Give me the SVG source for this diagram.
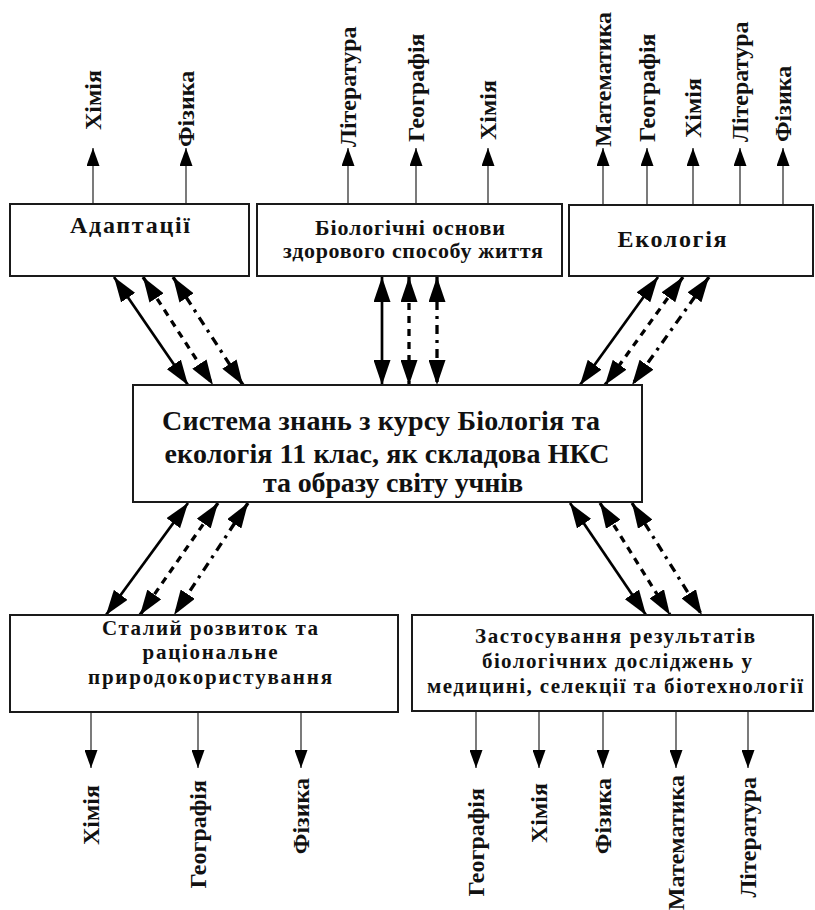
<svg xmlns="http://www.w3.org/2000/svg" width="815" height="910" viewBox="0 0 815 910">
<style>
.box{fill:#fff;stroke:#1a1a1a;stroke-width:2}
.t{font-family:"Liberation Serif","DejaVu Serif","Times New Roman",serif;font-weight:bold;fill:#111}
.c{text-anchor:middle}
.lbl{font-size:24px}
.up{text-anchor:start}
.dn{text-anchor:end}
.thin{stroke:#333;stroke-width:1.3;fill:none;marker-end:url(#small)}
.big{stroke:#000;fill:none;marker-start:url(#head);marker-end:url(#head)}
.solid{stroke-width:2.7}
.dash{stroke-width:3.3;stroke-dasharray:7 6}
.dashdot{stroke-width:3.3;stroke-dasharray:9 6 3 6}
</style>
<defs>
<marker id="head" viewBox="0 0 25 17" refX="25" refY="8.5" markerWidth="25" markerHeight="17" markerUnits="userSpaceOnUse" orient="auto-start-reverse"><path d="M0,0 L25,8.5 L0,17 z" fill="#000"/></marker>
<marker id="small" viewBox="0 0 18 13" refX="18" refY="6.5" markerWidth="18" markerHeight="13" markerUnits="userSpaceOnUse" orient="auto"><path d="M0,0 L18,6.5 L0,13 z" fill="#000"/></marker>
</defs>
<rect width="815" height="910" fill="#fff"/>

<g id="connectors">
<path class="thin" d="M93,204 V148"/>
<path class="thin" d="M186,204 V148"/>
<path class="thin" d="M348,204 V148"/>
<path class="thin" d="M416,204 V148"/>
<path class="thin" d="M488,204 V148"/>
<path class="thin" d="M603,205 V148"/>
<path class="thin" d="M647,205 V148"/>
<path class="thin" d="M693,205 V148"/>
<path class="thin" d="M740,205 V148"/>
<path class="thin" d="M783,205 V148"/>
<path class="thin" d="M91,712 V768"/>
<path class="thin" d="M198,712 V768"/>
<path class="thin" d="M301,712 V768"/>
<path class="thin" d="M476,711 V768"/>
<path class="thin" d="M539,711 V768"/>
<path class="thin" d="M603,711 V768"/>
<path class="thin" d="M676,711 V768"/>
<path class="thin" d="M748,711 V768"/>
<path class="big solid" d="M114,277 L188,385"/>
<path class="big dash" d="M143,277 L213,385"/>
<path class="big dashdot" d="M173,277 L243,385"/>
<path class="big solid" d="M382,277 L382,385"/>
<path class="big dash" d="M409,277 L409,385"/>
<path class="big dashdot" d="M437,277 L437,385"/>
<path class="big solid" d="M658,277 L580,385"/>
<path class="big dash" d="M683,277 L605,385"/>
<path class="big dashdot" d="M709,277 L632,385"/>
<path class="big solid" d="M188,503 L106,615"/>
<path class="big dash" d="M218,503 L140,615"/>
<path class="big dashdot" d="M248,503 L174,615"/>
<path class="big solid" d="M570,503 L646,615"/>
<path class="big dash" d="M600,503 L670,615"/>
<path class="big dashdot" d="M632,503 L702,615"/>
</g>

<g id="node-adaptatsii">
<rect class="box" x="10" y="204" width="239" height="72"/>
<text class="t c" x="130" y="233" font-size="24" textLength="120">Адаптації</text>
</g>
<g id="node-bio-zdorovya">
<rect class="box" x="257" y="204" width="305" height="72"/>
<text class="t c" x="410" y="235" font-size="22" textLength="190">Біологічні основи</text>
<text class="t c" x="413" y="258" font-size="22" textLength="260">здорового способу життя</text>
</g>
<g id="node-ekologiya">
<rect class="box" x="569" y="205" width="244" height="71"/>
<text class="t c" x="672" y="247" font-size="24" textLength="109">Екологія</text>
</g>
<g id="node-center">
<rect class="box" x="133" y="385" width="509" height="117"/>
<text class="t c" x="381" y="430" font-size="28" textLength="438">Система знань з курсу Біологія та</text>
<text class="t c" x="387" y="463" font-size="28" textLength="445">екологія 11 клас, як складова НКС</text>
<text class="t c" x="393" y="492" font-size="28" textLength="260">та образу світу учнів</text>
</g>
<g id="node-stalyi">
<rect class="box" x="10" y="615" width="388" height="97"/>
<text class="t c" x="210" y="635" font-size="21" textLength="216">Сталий розвиток та</text>
<text class="t c" x="210" y="659" font-size="21" textLength="135">раціональне</text>
<text class="t c" x="210" y="684" font-size="21" textLength="244">природокористування</text>
</g>
<g id="node-zastosuvannya">
<rect class="box" x="412" y="615" width="401" height="96"/>
<text class="t c" x="615" y="643" font-size="21" textLength="280">Застосування результатів</text>
<text class="t c" x="617" y="668" font-size="21" textLength="270">біологічних досліджень у</text>
<text class="t c" x="615" y="693" font-size="21" textLength="376">медицині, селекції та біотехнології</text>
</g>

<g id="lbl-a-khimiya"><text class="t lbl up" transform="translate(101,130) rotate(-90)">Хімія</text></g>
<g id="lbl-a-fizyka"><text class="t lbl up" transform="translate(194,147) rotate(-90)">Фізика</text></g>
<g id="lbl-b-literatura"><text class="t lbl up" transform="translate(356,147) rotate(-90)">Література</text></g>
<g id="lbl-b-heohrafiya"><text class="t lbl up" transform="translate(424,142) rotate(-90)">Географія</text></g>
<g id="lbl-b-khimiya"><text class="t lbl up" transform="translate(496,140) rotate(-90)">Хімія</text></g>
<g id="lbl-e-matematyka"><text class="t lbl up" transform="translate(611,147) rotate(-90)">Математика</text></g>
<g id="lbl-e-heohrafiya"><text class="t lbl up" transform="translate(655,142) rotate(-90)">Географія</text></g>
<g id="lbl-e-khimiya"><text class="t lbl up" transform="translate(701,138) rotate(-90)">Хімія</text></g>
<g id="lbl-e-literatura"><text class="t lbl up" transform="translate(748,142) rotate(-90)">Література</text></g>
<g id="lbl-e-fizyka"><text class="t lbl up" transform="translate(791,142) rotate(-90)">Фізика</text></g>

<g id="lbl-s-khimiya"><text class="t lbl dn" transform="translate(99,785) rotate(-90)">Хімія</text></g>
<g id="lbl-s-heohrafiya"><text class="t lbl dn" transform="translate(206,780) rotate(-90)">Географія</text></g>
<g id="lbl-s-fizyka"><text class="t lbl dn" transform="translate(309,778) rotate(-90)">Фізика</text></g>
<g id="lbl-z-heohrafiya"><text class="t lbl dn" transform="translate(484,788) rotate(-90)">Географія</text></g>
<g id="lbl-z-khimiya"><text class="t lbl dn" transform="translate(547,783) rotate(-90)">Хімія</text></g>
<g id="lbl-z-fizyka"><text class="t lbl dn" transform="translate(611,778) rotate(-90)">Фізика</text></g>
<g id="lbl-z-matematyka"><text class="t lbl dn" transform="translate(684,775) rotate(-90)">Математика</text></g>
<g id="lbl-z-literatura"><text class="t lbl dn" transform="translate(756,777) rotate(-90)">Література</text></g>
</svg>
